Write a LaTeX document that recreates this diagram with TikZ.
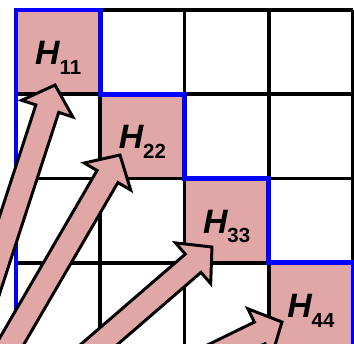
\documentclass[tikz,border=0pt]{standalone}
\usepackage{fontspec}
\setmainfont{Liberation Sans}
\usetikzlibrary{calc}
\definecolor{hpink}{RGB}{225,167,167}
\definecolor{hblue}{RGB}{0,0,255}
\newcommand{\hlab}[1]{{\fontsize{24}{26}\selectfont\bfseries\itshape H}\raisebox{-7pt}{\fontsize{14.5}{15}\selectfont\bfseries #1}}

\begin{document}
\begin{tikzpicture}[x=2.1cm,y=2.1cm,
  gridline/.style={line width=2.8pt,line cap=square},
  stair/.style={hblue,line width=3.4pt,line cap=square,line join=miter},
  blockarrow/.style={fill=hpink,draw=black,line width=2.1pt,line join=miter},
  hcell/.style={inner sep=0pt}]
  \path[use as bounding box,clip] (-0.19,-3.964) rectangle (4.012,0.119);
  % diagonal cells
  \foreach \i in {1,...,4}
    \fill[hpink] (\i-1,1-\i) rectangle (\i,-\i);
  % grid
  \foreach \i in {0,...,4}{
    \draw[gridline] (\i,0) -- (\i,-4);
    \draw[gridline] (0,-\i) -- (4,-\i);
  }
  % staircase
  \draw[stair] (0,-4) -- (0,0) -- (1,0) -- (1,-1) -- (2,-1) -- (2,-2)
    -- (3,-2) -- (3,-3) -- (4,-3) -- (4,-4);
  % labels
  \foreach \i in {1,...,4}
    \node[hcell] (H\i\i) at (\i-0.5,0.43-\i) {\hlab{\i\i}};
  % arrows
  \coordinate (src) at (-1.139,-5.804);
  \coordinate (T1) at (0.463,-0.890);
  \coordinate (T2) at (1.234,-1.721);
  \coordinate (T3) at (2.326,-2.813);
  \coordinate (T4) at (3.157,-3.703);
  \foreach \t in {T1,T2,T3,T4}{
    \coordinate (N) at ($(\t)!0.62cm!(src)$);
    \draw[blockarrow] ($(src)!0.3cm!90:(\t)$) -- ($(N)!0.3cm!90:(\t)$)
      -- ($(N)!0.67cm!90:(\t)$) -- (\t) -- ($(N)!0.67cm!-90:(\t)$)
      -- ($(N)!0.3cm!-90:(\t)$) -- ($(src)!0.3cm!-90:(\t)$) -- cycle;
  }
\end{tikzpicture}
\end{document}
